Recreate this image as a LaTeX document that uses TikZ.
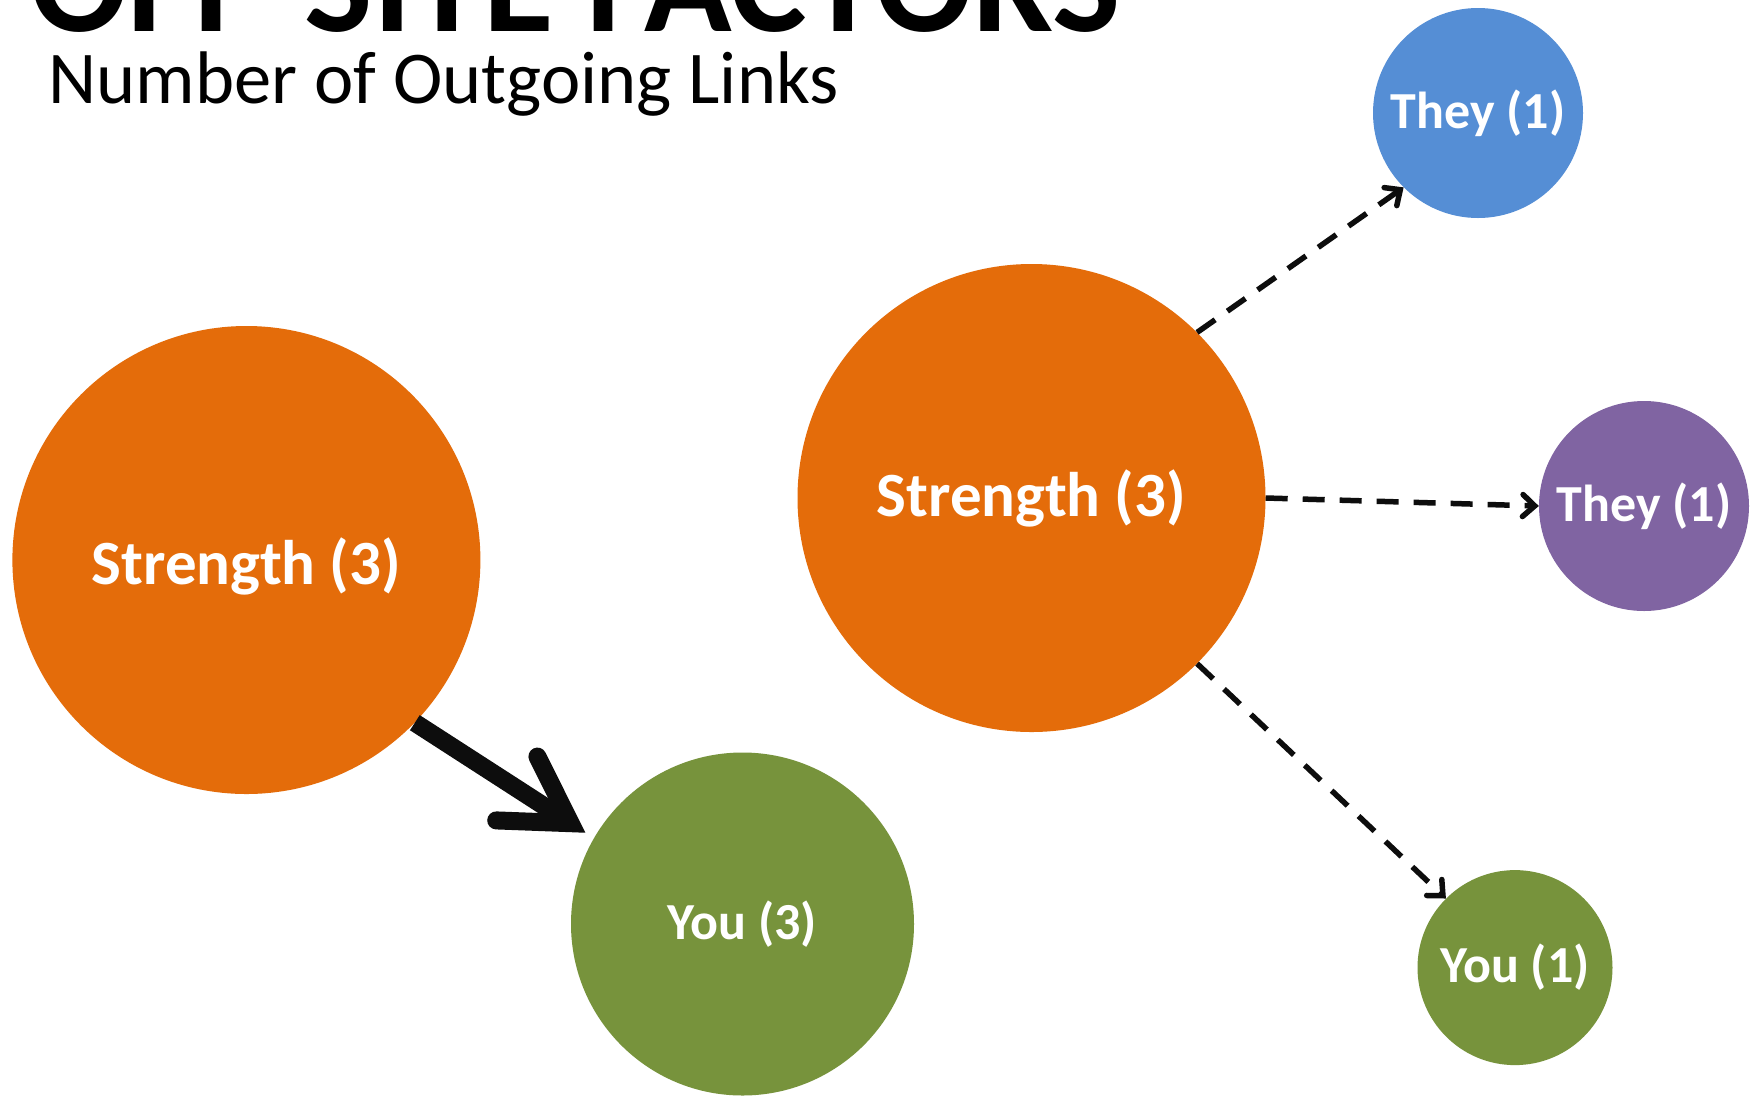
\documentclass[tikz,border=0pt]{standalone}
\usepackage{fontspec}
\setmainfont{Carlito}
\usetikzlibrary{arrows.meta}
\definecolor{corange}{HTML}{E46C0A}
\definecolor{cblue}{HTML}{558ED5}
\definecolor{cpurple}{HTML}{8064A2}
\definecolor{cgreen}{HTML}{77933C}
\tikzset{
  bubble/.style={circle, inner sep=0pt, draw=none, text=white, font=\bfseries},
  bigtext/.style={font=\fontsize{63}{70}\selectfont\bfseries},
  smalltext/.style={font=\fontsize{52}{58}\selectfont\bfseries},
  solidlink/.style={line width=18pt, draw=black!95,
    -{Straight Barb[length=64pt, width=76pt, line cap=round, line join=miter]}},
  dashlink/.style={line width=5.5pt, draw=black!95, dash pattern=on 22pt off 15pt,
    -{Straight Barb[length=12pt, width=22pt, line cap=round, line join=miter]}}
}
\begin{document}
\begin{tikzpicture}[x=1pt,y=-1pt]
\useasboundingbox[fill=white] (0,0) rectangle (1756,1096);
% titles
\node[anchor=base west, inner sep=0pt, font=\fontsize{144.5}{150}\selectfont\bfseries] (title) at (30,31) {OFF-SITE FACTORS};
\node[anchor=base west, inner sep=0pt, font=\fontsize{74.5}{80}\selectfont] (subtitle) at (48.5,103) {Number of Outgoing Links};
% left group
\node[bubble, fill=corange, minimum size=468pt] (s1) at (246.4,560) {};
\node[bigtext, text=white, inner sep=0pt] (s1label) at ([yshift=-6pt]s1.center) {Strength (3)};
\node[bubble, smalltext, fill=cgreen, minimum size=343pt] (y3) at (742.5,924) {You (3)};
% right group
\node[bubble, bigtext, fill=corange, minimum size=468pt] (s2) at (1031.5,498) {Strength (3)};
\node[bubble, smalltext, fill=cblue, minimum size=210pt] (t1) at (1478,113) {They (1)};
\node[bubble, smalltext, fill=cpurple, minimum size=210pt] (t2) at (1644,506) {They (1)};
\node[bubble, smalltext, fill=cgreen, minimum size=195pt] (y1) at (1515,967.6) {You (1)};
% connectors
\draw[solidlink, shorten >=10pt] (s1.-44) -- (y3.150);
\draw[dashlink] (s2.45) -- (t1.225);
\draw[dashlink] (s2.east) -- (t2.west);
\draw[dashlink] (s2.-45) -- (y1.135);
\end{tikzpicture}
\end{document}
